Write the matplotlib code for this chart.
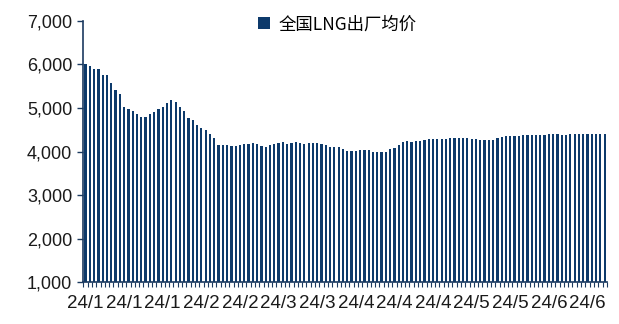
import matplotlib
matplotlib.use("Agg")
import matplotlib.pyplot as plt
from matplotlib.patches import Patch
import numpy as np

plt.rcParams['font.family'] = ['Liberation Sans', 'Noto Sans CJK SC', 'DejaVu Sans']

series_name = "全国LNG出厂均价"
values = [
    6000, 5950, 5900, 5900, 5760, 5760, 5580, 5400, 5320, 5030,
    4970, 4940, 4850, 4780, 4800, 4860, 4910, 4970, 5030, 5120,
    5190, 5130, 5030, 4930, 4770, 4730, 4600, 4530, 4500, 4400,
    4310, 4150, 4150, 4140, 4120, 4130, 4150, 4170, 4180, 4200,
    4180, 4120, 4100, 4140, 4170, 4200, 4210, 4180, 4200, 4220,
    4200, 4180, 4200, 4200, 4200, 4170, 4140, 4110, 4110, 4110,
    4050, 4010, 4010, 4010, 4030, 4030, 4030, 3990, 3990, 3990,
    4000, 4060, 4090, 4150, 4210, 4230, 4210, 4240, 4250, 4270,
    4280, 4280, 4280, 4280, 4280, 4300, 4300, 4310, 4310, 4310,
    4290, 4290, 4270, 4260, 4260, 4270, 4320, 4340, 4350, 4350,
    4350, 4360, 4370, 4370, 4380, 4380, 4370, 4380, 4390, 4400,
    4390, 4370, 4370, 4390, 4400, 4400, 4400, 4400, 4400, 4400,
    4400, 4400,
]
tick_labels = ["24/1", "24/1", "24/1", "24/2", "24/2", "24/3", "24/3",
               "24/4", "24/4", "24/4", "24/5", "24/5", "24/6", "24/6"]
label_step = 9

bar_color = "#0D3A6B"
axis_color = "#1B3A60"
text_color = "#1a1a1a"

fig = plt.figure(figsize=(6.19, 3.24), dpi=100)
ax = fig.add_axes([0.134, 0.1287, 0.847, 0.8074])

x = np.arange(len(values))
ax.bar(x, np.array(values) - 1000, bottom=1000, width=0.52, color=bar_color, linewidth=0)

ax.set_xlim(-0.6, len(values) - 0.4)
ax.set_ylim(1000, 7000)
ax.set_yticks(np.arange(1000, 7001, 1000))
ax.set_yticklabels([f"{v:,}" for v in range(1000, 7001, 1000)], fontsize=13, color=text_color)

ax.set_xticks(x[::label_step])
ax.set_xticklabels(tick_labels, fontsize=13.5, color=text_color)
ax.tick_params(axis='x', which='major', length=0, pad=9.5)
ax.set_xticks(np.arange(len(values) + 1) - 0.5, minor=True)
ax.tick_params(axis='x', which='minor', length=3.5, width=0.8, color=axis_color, direction='out')
ax.tick_params(axis='y', length=4.3, width=1, color=axis_color, pad=3.5)

for s in ['top', 'right']:
    ax.spines[s].set_visible(False)
ax.spines['left'].set_color(axis_color)
ax.spines['left'].set_linewidth(1.2)
ax.spines['bottom'].set_color(axis_color)
ax.spines['bottom'].set_linewidth(1.2)

handle = Patch(facecolor=bar_color, edgecolor='none')
leg = ax.legend([handle], [series_name], loc='upper center', bbox_to_anchor=(0.485, 1.08),
                frameon=False, handlelength=0.7, handleheight=0.7, handletextpad=0.5,
                prop={'family': ['Noto Sans CJK SC', 'DejaVu Sans'], 'size': 12.5})

fig.savefig("out.png", dpi=100)
